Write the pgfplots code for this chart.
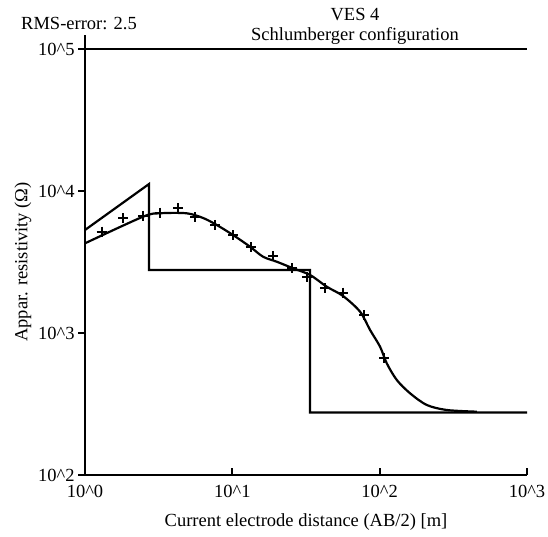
\documentclass[border=0pt]{standalone}
\usepackage{fontspec}
\setmainfont{Liberation Serif}
\usepackage{pgfplots}
\pgfplotsset{compat=1.18}
\newcommand{\lf}{\fontsize{18.5bp}{22bp}\selectfont}
\begin{document}
\begin{tikzpicture}
\begin{axis}[
  at={(0,0)}, anchor=south west,
  scale only axis,
  width=442bp, height=440.2bp,
  xmode=log, ymode=log,
  xmin=1, xmax=1000, ymin=100, ymax=125900,
  axis lines=left,
  axis line style={line width=2.4bp, -},
  clip=false,
  xtick={1,10,100,1000},
  xticklabels={10\textasciicircum0,10\textasciicircum1,10\textasciicircum2,10\textasciicircum3},
  ytick={100,1000,10000,100000},
  yticklabels={10\textasciicircum2,10\textasciicircum3,10\textasciicircum4,10\textasciicircum5},
  minor tick num=0,
  xminorticks=false, yminorticks=false,
  xtick align=inside, ytick align=outside,
  major tick length=7bp,
  every tick/.style={line width=2bp, black},
  tick label style={font=\lf},
  xticklabel style={yshift=-7bp},
]
% top line at 10^5
\addplot[line width=2.6bp, black] coordinates {(1,100000) (1000,100000)};
% layer model
\addplot[line width=2.2bp, black] coordinates {
(1,5314) (2.72,11200) (2.72,2778) (33.7,2778) (33.7,275.5) (1000,275.5)};
% fitted curve
\addplot[line width=2.2bp, black, smooth, tension=0.5] coordinates {
(1,4281) (2.476,6592) (3.230,6966) (4.902,6966) (6.326,6457) (7.838,5764)
(10.11,4898) (13.19,4052) (16.16,3446) (20.01,3178) (25.84,2855) (33.69,2562)
(43.74,2119) (56.43,1822) (73.62,1413) (86.08,1050) (100.6,801) (111.7,612)
(130.7,466.7) (160.8,376.2) (208.9,311.2) (285.4,286.9) (456.2,279.1)};
% measured data
\addplot[only marks, mark=+, mark size=5bp, mark options={line width=2bp, black}] coordinates {
(1.298,5169) (1.820,6424) (2.488,6668) (3.230,7034) (4.300,7556) (5.582,6528)
(7.630,5764) (10.16,4898) (13.33,4013) (18.98,3486) (25.31,2855) (32.30,2468)
(42.59,2065) (56.70,1922) (78.75,1339) (107.1,663.7)};
\end{axis}
\node[font=\lf] at (221bp,-47bp) {Current electrode distance (AB/2) [m]};
\node[font=\lf, rotate=90] at (-62bp,213bp) {Appar. resistivity (\symbol{"03A9})};
\node[font=\lf, anchor=west, inner sep=0pt] at (-64bp,451bp) {RMS-error: 2.5};
\node[font=\lf] at (270bp,460bp) {VES 4};
\node[font=\lf] at (270bp,439bp) {Schlumberger configuration};
\pgfresetboundingbox
\path (-85bp,-62bp) rectangle (463bp,475bp);
\end{tikzpicture}
\end{document}
